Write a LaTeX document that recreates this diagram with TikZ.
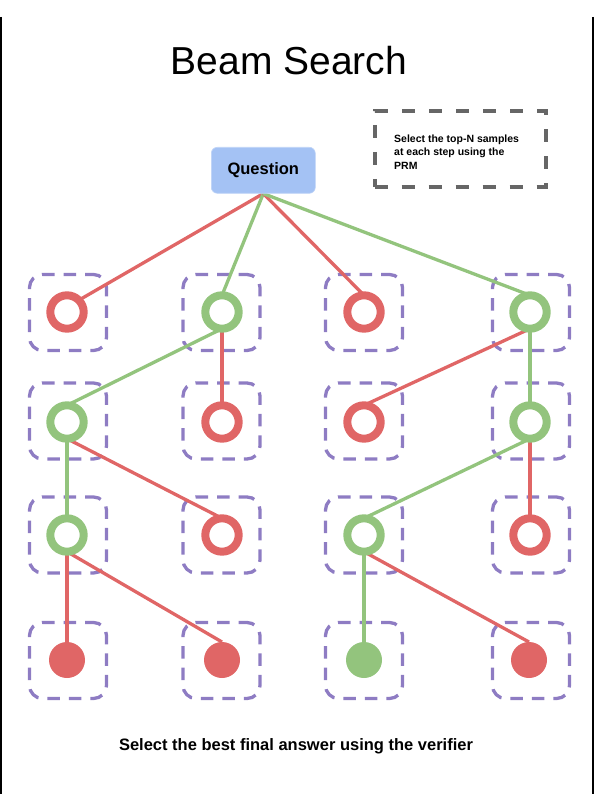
\documentclass[tikz,border=0pt]{standalone}
\usepackage{fontspec}
\setmainfont{Liberation Sans}
\definecolor{rd}{HTML}{E06666}
\definecolor{gn}{HTML}{93C47D}
\definecolor{pu}{HTML}{8E7CC3}
\definecolor{qb}{HTML}{A4C2F4}
\definecolor{gy}{HTML}{666666}
\pgfdeclarelayer{bg}
\pgfdeclarelayer{edges}
\pgfsetlayers{bg,edges,main}
\begin{document}
\begin{tikzpicture}[x=1pt,y=-1pt,
  ring/.style={circle, draw=#1, line width=8pt, minimum size=33.4pt, inner sep=0pt, outer sep=0pt, fill=white},
  dot/.style={circle, fill=#1, minimum size=36pt, inner sep=0pt, outer sep=0pt},
  slot/.style={draw=pu, rounded corners=13pt, minimum width=77pt, minimum height=76pt, line width=3.3pt, dash pattern=on 12.5pt off 9pt, dash phase=4pt, inner sep=0pt},
  link/.style={line width=3.3pt, draw=#1},
  qbox/.style={rectangle, rounded corners=6pt, fill=qb, draw=qb!70!white, line width=0.6pt, minimum width=104pt, minimum height=46pt, font=\bfseries\fontsize{16.5}{20}\selectfont},
  legbox/.style={rectangle, draw=gy, line width=4pt, dash pattern=on 13pt off 14pt, minimum width=171pt, minimum height=76pt},
  legtext/.style={align=left, inner sep=0pt, font=\bfseries\fontsize{10.5}{13.8}\selectfont},
  titletext/.style={font=\fontsize{39}{44}\selectfont, inner sep=0pt},
  foottext/.style={font=\bfseries\fontsize{16.5}{20}\selectfont, inner sep=0pt},
]
\useasboundingbox (0,0) rectangle (594,794);
\draw[line width=1.5pt] (1,17) -- (1,794);
\draw[line width=1.5pt] (593,17) -- (593,794);

\node[titletext, anchor=base] (title) at (289,75) {Beam Search};
\node[qbox] (Q) at (263.3,170.3) {Question};
\node[legbox] (leg) at (460,149) {};
\node[legtext, anchor=west] (legt) at (394,152) {Select the top-N samples\\at each step using the\\PRM};
\node[foottext, anchor=base] (foot) at (296,750) {Select the best final answer using the verifier};

% slots
\begin{pgfonlayer}{bg}
\foreach \c/\x in {1/68,2/221.5,3/364,4/531}{
  \foreach \r/\y in {1/312.5,2/421,3/535,4/660.5}{
    \node[slot] (S\r\c) at (\x,\y) {};
  }
}
\end{pgfonlayer}

% nodes
\node[ring=rd] (R11) at (67,312) {};
\node[ring=gn] (R12) at (222,312) {};
\node[ring=rd] (R13) at (364,312) {};
\node[ring=gn] (R14) at (530,312) {};
\node[ring=gn] (R21) at (67,422) {};
\node[ring=rd] (R22) at (222,422) {};
\node[ring=rd] (R23) at (364,422) {};
\node[ring=gn] (R24) at (530,422) {};
\node[ring=gn] (R31) at (67,535) {};
\node[ring=rd] (R32) at (222,535) {};
\node[ring=gn] (R33) at (364,535) {};
\node[ring=rd] (R34) at (530,535) {};
\node[dot=rd] (R41) at (67,660) {};
\node[dot=rd] (R42) at (222,660) {};
\node[dot=gn] (R43) at (364,660) {};
\node[dot=rd] (R44) at (529,660) {};

\begin{pgfonlayer}{edges}
\draw[link=rd] (Q.south) -- (R11.north east);
\draw[link=gn] (Q.south) -- (R12.north);
\draw[link=rd] (Q.south) -- (R13.north);
\draw[link=gn] (Q.south) -- (R14.north);
\draw[link=gn] (R12.south) -- (R21.north);
\draw[link=rd] (R12.south) -- (R22.north);
\draw[link=rd] (R14.south) -- (R23.north);
\draw[link=gn] (R14.south) -- (R24.north);
\draw[link=gn] (R21.south) -- (R31.north);
\draw[link=rd] (R21.south) -- (R32.north);
\draw[link=gn] (R24.south) -- (R33.north);
\draw[link=rd] (R24.south) -- (R34.north);
\draw[link=rd] (R31.south) -- (R41.north);
\draw[link=rd] (R31.south) -- (R42.north);
\draw[link=gn] (R33.south) -- (R43.north);
\draw[link=rd] (R33.south) -- (R44.north);
\end{pgfonlayer}
\end{tikzpicture}
\end{document}
